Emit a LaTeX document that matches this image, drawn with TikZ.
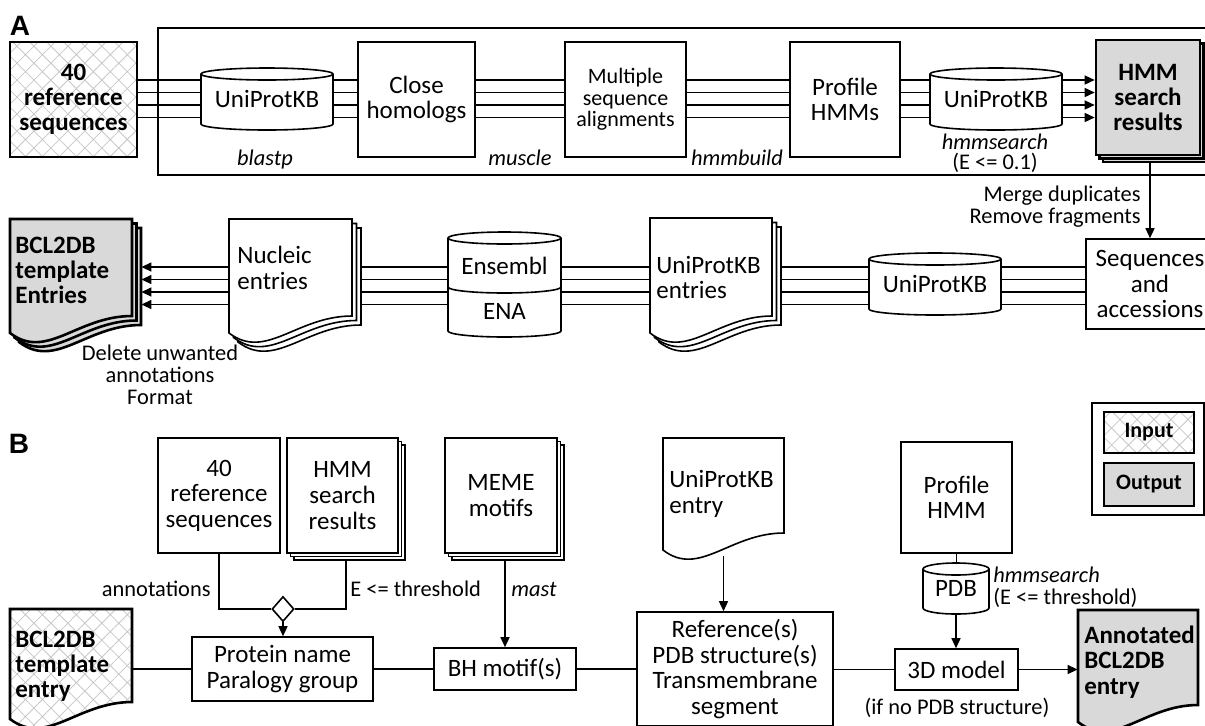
\documentclass[tikz,border=0pt]{standalone}
\usepackage{fontspec}
\setmainfont{Carlito}
\newfontfamily\panelfont{Liberation Sans}
\usetikzlibrary{calc, arrows.meta, shapes.geometric, patterns.meta}

% database cylinder: x0, y0, width, height (pixels)
\newcommand\dbcyl[4]{%
  \filldraw[dbline] (#1,#2+6) -- (#1,#2+#4-6)
    arc[start angle=180, end angle=360, x radius=#3*0.25pt, y radius=3pt]
    -- (#1+#3,#2+6)
    arc[start angle=0, end angle=180, x radius=#3*0.25pt, y radius=3pt] -- cycle;
  \draw[dbline] (#1,#2+6)
    arc[start angle=180, end angle=360, x radius=#3*0.25pt, y radius=3pt];}

% document sheet with wavy bottom: style, x0, y0, width, height (pixels)
\newcommand\docsheet[5]{%
  \filldraw[#1] (#2,#3) -- ++(#4,0) -- ++(0,#5-17)
    .. controls +(-0.45*#4,0) and +(0.3*#4,28) .. (#2,#3+#5) -- cycle;}

\begin{document}
\begin{tikzpicture}[x=0.5pt, y=-0.5pt,
    box/.style={draw, line width=0.8pt, fill=white, align=center, inner sep=0pt,
        font=\fontsize{12.5}{12.8}\selectfont},
    inbox/.style={draw, line width=1.3pt, align=center, inner sep=0pt,
        pattern={Hatch[angle=45, distance=6pt, line width=0.4pt]}, pattern color=black!22,
        font=\bfseries\fontsize{12.5}{12.6}\selectfont},
    outbox/.style={box, line width=1.3pt, fill=black!15,
        font=\bfseries\fontsize{12.5}{12.6}\selectfont},
    sheet/.style={line width=0.8pt, fill=white},
    outsheet/.style={line width=1.3pt, fill=black!15},
    insheet/.style={line width=1.3pt,
        pattern={Hatch[angle=45, distance=6pt, line width=0.4pt]}, pattern color=black!22},
    dbline/.style={line width=0.8pt, fill=white},
    plain/.style={inner sep=0pt, align=center, font=\fontsize{12.5}{12.8}\selectfont},
    hold/.style={inner sep=0pt},
    doctext/.style={anchor=west, align=left, inner sep=0pt, font=\fontsize{12.5}{12.8}\selectfont},
    tool/.style={inner sep=0pt, align=center, font=\itshape\fontsize{11.2}{10.8}\selectfont},
    note/.style={inner sep=0pt, font=\fontsize{11.2}{11}\selectfont},
    conn/.style={line width=0.7pt},
    arr/.style={conn, -{Triangle[length=5pt, width=4.5pt]}}]

    \useasboundingbox (0,0) rectangle (1205,725);
    \clip (0,0) rectangle (1205,725);

    % panel labels
    \node (Label_A) at (20,25.5) {\panelfont\bfseries\fontsize{14}{14}\selectfont A};
    \node (Label_B) at (19,444) {\panelfont\bfseries\fontsize{14}{14}\selectfont B};

    % ---------- A: search pipeline
    \coordinate (Row_A) at (0,98.75);
    \draw[line width=1.3pt] (158,28) rectangle (1220,175);

    \node (Ref_Seq) [inbox, minimum width=63.5pt, minimum height=57.5pt] at (73.5,99.5)
        {40\\reference\\sequences};

    \dbcyl{201}{68}{132}{62}
    \node (UniProt_A) [plain, minimum width=66pt, minimum height=31pt] at (267,99) {UniProtKB};

    \node (Close_Hom) [box, minimum width=58.5pt, minimum height=57.5pt] at (416.5,99.5)
        {Close\\homologs};
    \node (MSA) [box, minimum width=60.5pt, minimum height=57.5pt,
        font=\fontsize{11}{10.8}\selectfont] at (625.5,99.5) {Multiple\\sequence\\alignments};
    \node (Profile_HMMs) [box, minimum width=55pt, minimum height=57.5pt] at (845,99.5)
        {Profile\\HMMs};

    \dbcyl{930}{68}{132}{62}
    \node (UniProt_S) [plain, minimum width=66pt, minimum height=31pt] at (996,99) {UniProtKB};

    % stacked results
    \filldraw[outsheet] (1096+7,40+7) rectangle ++(104,115);
    \filldraw[outsheet] (1096+3.5,40+3.5) rectangle ++(104,115);
    \node (HMM_Res) [outbox, minimum width=52pt, minimum height=57.5pt] at (1148,97.5)
        {HMM\\search\\results};

    \node (Tool_blastp) [tool] at (265,160) {blastp};
    \node (Tool_muscle) [tool] at (520,158) {muscle};
    \node (Tool_hmmbuild) [tool] at (737,158) {hmmbuild};
    \node (Tool_hmmsearch) [tool] at (995,142) {hmmsearch};
    \node (Cut_A) [note] at (995,163) {(E <= 0.1)};

    \foreach \off in {-18.75,-6.25,6.25,18.75} {
        \draw[conn] ($(Ref_Seq.east|-Row_A)+(0,\off)$) -- ($(UniProt_A.west|-Row_A)+(0,\off)$);
        \draw[conn] ($(UniProt_A.east|-Row_A)+(0,\off)$) -- ($(Close_Hom.west|-Row_A)+(0,\off)$);
        \draw[conn] ($(Close_Hom.east|-Row_A)+(0,\off)$) -- ($(MSA.west|-Row_A)+(0,\off)$);
        \draw[conn] ($(MSA.east|-Row_A)+(0,\off)$) -- ($(Profile_HMMs.west|-Row_A)+(0,\off)$);
        \draw[conn] ($(Profile_HMMs.east|-Row_A)+(0,\off)$) -- ($(UniProt_S.west|-Row_A)+(0,\off)$);
        \draw[arr] ($(UniProt_S.east|-Row_A)+(0,\off)$) -- ($(HMM_Res.west|-Row_A)+(0,\off)$);
    }

    % ---------- A: retrieval of entries
    \coordinate (Row_B) at (0,285.75);

    \node (Seq_Acc) [box, minimum width=64pt, minimum height=45pt] at (1150,284)
        {Sequences\\and\\accessions};
    \draw[arr] ($(Seq_Acc.north|-HMM_Res.south)+(0,7)$) -- (Seq_Acc.north);
    \node (Merge_Note) [note, anchor=east, align=right] at (1141,207)
        {Merge duplicates\\Remove fragments};

    \dbcyl{869}{253}{132}{62}
    \node (UniProt_B) [plain, minimum width=66pt, minimum height=31pt] at (935,284) {UniProtKB};

    % UniProtKB entries
    \docsheet{sheet}{650+9}{218+9}{122}{115}
    \docsheet{sheet}{650+4.5}{218+4.5}{122}{115}
    \docsheet{sheet}{650}{218}{122}{115}
    \node (UP_Entries) [hold, minimum width=61pt, minimum height=57.5pt] at (711,275.5) {};
    \node (UP_Entries_txt) [doctext] at (656,277.5) {UniProtKB\\entries};

    % Ensembl / ENA
    \dbcyl{448}{232}{113}{105}
    \draw[line width=0.8pt] (448,287)
        arc[start angle=180, end angle=360, x radius=113*0.25pt, y radius=3pt];
    \node (Ens_DB) [hold, minimum width=56.5pt, minimum height=52.5pt] at (504.5,284.5) {};
    \node (Ensembl) [plain] at (504.5,266) {Ensembl};
    \node (ENA) [plain] at (504.5,311) {ENA};

    % Nucleic entries
    \docsheet{sheet}{229+9}{219+9}{123}{114}
    \docsheet{sheet}{229+4.5}{219+4.5}{123}{114}
    \docsheet{sheet}{229}{219}{123}{114}
    \node (Nuc_Entries) [hold, minimum width=61.5pt, minimum height=57pt] at (290.5,276) {};
    \node (Nuc_txt) [doctext] at (237,268) {Nucleic\\entries};

    % BCL2DB template entries
    \docsheet{outsheet}{10+9}{219+9}{122}{114}
    \docsheet{outsheet}{10+4.5}{219+4.5}{122}{114}
    \docsheet{outsheet}{10}{219}{122}{114}
    \node (BCL_Entries) [hold, minimum width=61pt, minimum height=57pt] at (71,276) {};
    \node (BCL_txt) [doctext, font=\bfseries\fontsize{12.5}{12.6}\selectfont] at (15,270.5)
        {BCL2DB\\template\\Entries};
    \node (Delete_Note) [note, align=center] at (160,375) {Delete unwanted\\annotations\\Format};

    \foreach \off in {-18.75,-6.25,6.25,18.75} {
        \draw[conn] ($(Seq_Acc.west|-Row_B)+(0,\off)$) -- ($(UniProt_B.east|-Row_B)+(0,\off)$);
        \draw[conn] ($(UniProt_B.west|-Row_B)+(0,\off)$) -- ($(UP_Entries.east|-Row_B)+(9,\off)$);
        \draw[conn] ($(UP_Entries.west|-Row_B)+(0,\off)$) -- ($(Ens_DB.east|-Row_B)+(0,\off)$);
        \draw[conn] ($(Ens_DB.west|-Row_B)+(0,\off)$) -- ($(Nuc_Entries.east|-Row_B)+(9,\off)$);
        \draw[arr] ($(Nuc_Entries.west|-Row_B)+(0,\off)$) -- ($(BCL_Entries.east|-Row_B)+(9,\off)$);
    }

    % ---------- legend
    \node (Legend) [draw, line width=1.3pt, minimum width=56pt, minimum height=56pt] at (1148,459) {};
    \node (Leg_In) [inbox, minimum width=45pt, minimum height=20.5pt,
        font=\bfseries\fontsize{11}{11}\selectfont] at (1149,432.5) {Input};
    \node (Leg_Out) [outbox, minimum width=45pt, minimum height=21.5pt,
        font=\bfseries\fontsize{11}{11}\selectfont] at (1149,484.5) {Output};

    % ---------- B: annotation
    \node (Ref_Seq_B) [box, minimum width=61pt, minimum height=57.5pt] at (219,495.5)
        {40\\reference\\sequences};
    \filldraw[sheet] (287+7,438+7) rectangle ++(111,115);
    \filldraw[sheet] (287+3.5,438+3.5) rectangle ++(111,115);
    \node (HMM_Res_B) [box, minimum width=55.5pt, minimum height=57.5pt] at (342.5,495.5)
        {HMM\\search\\results};

    \node (Merge_Dia) [draw, diamond, line width=0.8pt, fill=white, inner sep=0pt,
        minimum width=11pt, minimum height=12.5pt] at (283,609) {};
    \draw[conn] (Ref_Seq_B.south) |- (Merge_Dia.west);
    \draw[conn] ($(HMM_Res_B.south)+(3.5,7)$) |- (Merge_Dia.east);
    \node (Annot_Label) [note, anchor=east] at (211,589) {annotations};
    \node (Thresh_Label) [note, anchor=west] at (350,589) {E <= threshold};

    \node (Prot_Name) [box, minimum width=90.5pt, minimum height=32pt] at (282.5,669)
        {Protein name\\Paralogy group};
    \draw[arr] (Merge_Dia.south) -- (Merge_Dia.south|-Prot_Name.north);

    % BCL2DB template entry
    \docsheet{insheet}{10}{609}{122}{110}
    \node (BCL_Entry) [hold, minimum width=61pt, minimum height=55pt] at (71,664) {};
    \node (BCL_Entry_txt) [doctext, font=\bfseries\fontsize{12.5}{12.6}\selectfont] at (15,666)
        {BCL2DB\\template\\entry};
    \draw[conn] (BCL_Entry.east|-Prot_Name.west) -- (Prot_Name.west);

    % MEME motifs
    \filldraw[sheet] (445+7,438+7) rectangle ++(112,115);
    \filldraw[sheet] (445+3.5,438+3.5) rectangle ++(112,115);
    \node (MEME) [box, minimum width=56pt, minimum height=57.5pt] at (501,495.5) {MEME\\motifs};
    \node (BH_Motif) [box, minimum width=71pt, minimum height=21pt] at (505,669) {BH motif(s)};
    \draw[arr] ($(BH_Motif.north|-MEME.south)+(0,7)$) -- (BH_Motif.north);
    \node (Tool_mast) [tool, anchor=west] at (511,589) {mast};
    \draw[conn] (Prot_Name.east) -- (BH_Motif.west);

    % UniProtKB entry
    \docsheet{sheet}{663}{438}{121}{112}
    \node (UP_Entry) [hold, minimum width=60.5pt, minimum height=56pt] at (723.5,494) {};
    \node (UP_Entry_txt) [doctext] at (669,494) {UniProtKB\\entry};
    \node (Ref_Box) [box, minimum width=98pt, minimum height=57pt] at (735,669)
        {Reference(s)\\PDB structure(s)\\Transmembrane\\segment};
    \draw[arr] ($(UP_Entry.south)+(0,6)$) -- (UP_Entry.south|-Ref_Box.north);
    \draw[conn] (BH_Motif.east) -- (Ref_Box.west);

    % Profile HMM, PDB, 3D model
    \node (Profile_HMM) [box, minimum width=55.5pt, minimum height=55.5pt] at (956.5,497.5)
        {Profile\\HMM};
    \dbcyl{923}{563}{66}{51}
    \node (PDB) [plain, minimum width=33pt, minimum height=25.5pt] at (956,588.5) {PDB};
    \draw[conn] (Profile_HMM.south) -- (Profile_HMM.south|-PDB.north);
    \node (Tool_hmmsearch_B) [tool, anchor=west] at (993,575) {hmmsearch};
    \node (Cut_B) [note, anchor=west] at (993,598) {(E <= threshold)};

    \node (Model_3D) [box, minimum width=61.5pt, minimum height=20.5pt] at (956.5,669.5) {3D model};
    \draw[arr] (PDB.south) -- (PDB.south|-Model_3D.north);
    \draw[conn] (Ref_Box.east|-Model_3D.west) -- (Model_3D.west);
    \node (No_PDB) [note] at (957,708) {(if no PDB structure)};

    % annotated entry
    \docsheet{outsheet}{1078}{610}{120}{112}
    \node (Annot_Entry) [hold, minimum width=60pt, minimum height=56pt] at (1138,666) {};
    \node (Annot_txt) [doctext, font=\bfseries\fontsize{12.5}{12.6}\selectfont] at (1084,662)
        {Annotated\\BCL2DB\\entry};
    \draw[arr] (Model_3D.east) -- (Model_3D.east-|Annot_Entry.west);
\end{tikzpicture}
\end{document}
